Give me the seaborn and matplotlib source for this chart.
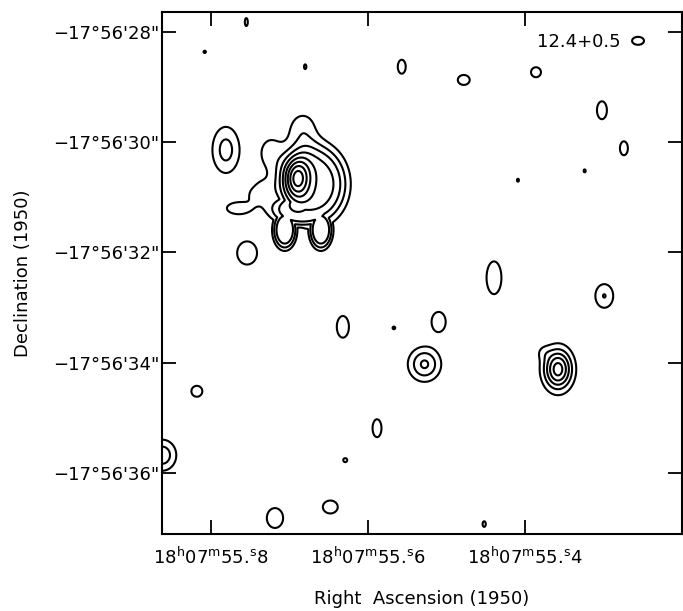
import numpy as np
import matplotlib
matplotlib.use("Agg")
import matplotlib.pyplot as plt
import seaborn as sns

# Contour map 12.4+0.5, rebuilt from blobs.
# RA in seconds (18h07m), Dec in arcsec (-17d56'), sizes in arcsec
src_ra = [55.671, 55.683, 55.706, 55.660, 55.683, 55.765, 55.735, 55.744, 55.690, 55.724,
          55.358, 55.377,
          55.781, 55.754, 55.4395, 55.299, 55.632, 55.567, 55.510, 55.528,
          55.818, 55.5885, 55.629, 55.862, 55.7185, 55.648, 55.452,
          55.755, 55.808, 55.680, 55.557, 55.478, 55.386, 55.256, 55.302,
          55.274, 55.409, 55.324]
src_dec = [30.76, 31.23, 31.59, 31.59, 29.78, 31.20, 30.90, 30.96, 30.65, 30.20,
           34.12, 33.81,
           30.14, 32.01, 32.46, 32.79, 33.35, 33.37, 33.26, 34.03,
           34.52, 35.19, 35.77, 35.68, 36.82, 36.62, 36.93,
           27.82, 28.36, 28.63, 28.63, 28.87, 28.73, 28.16, 29.42,
           30.11, 30.69, 30.52]
src_amp = [4.6, 3.8, 3.8, 3.8, 1.7, 1.45, 1.4, 0.8, 4.2, 1.4,
           5.5, 0.7,
           2.4, 1.5, 1.5, 2.03, 1.5, 1.2, 1.5, 3.17,
           1.5, 1.5, 1.3, 2.7, 1.5, 1.5, 1.3,
           1.5, 1.2, 1.3, 1.5, 1.5, 1.5, 1.5, 1.5,
           1.5, 1.2, 1.2]
src_sx = [0.53, 0.50, 0.18, 0.18, 0.20, 0.24, 0.18, 0.07, 0.16, 0.20,
          0.18, 0.10,
          0.185, 0.20, 0.15, 0.136, 0.122, 0.04, 0.142, 0.20,
          0.11, 0.09, 0.05, 0.18, 0.164, 0.15, 0.04,
          0.03, 0.035, 0.03, 0.08, 0.12, 0.10, 0.12, 0.10,
          0.08, 0.03, 0.03]
src_sy = [0.62, 0.25, 0.30, 0.30, 0.25, 0.12, 0.18, 0.07, 0.25, 0.28,
          0.255, 0.10,
          0.316, 0.233, 0.33, 0.18, 0.218, 0.04, 0.20, 0.21,
          0.11, 0.18, 0.05, 0.20, 0.20, 0.13, 0.07,
          0.08, 0.035, 0.06, 0.14, 0.10, 0.10, 0.08, 0.18,
          0.14, 0.045, 0.045]
src_pow = [2, 2, 2, 2, 1, 1, 1, 1, 1, 1,
           1, 1,
           1, 1, 1, 1, 1, 1, 1, 1,
           1, 1, 1, 1, 1, 1, 1,
           1, 1, 1, 1, 1, 1, 1, 1,
           1, 1, 1]
# plateau, bridge and the two southern lobes merge (max), everything else adds
src_mode = ['max'] * 4 + ['add'] * 34

levels = [1, 2, 3, 4, 5, 6, 7, 8]
ra_ticks = [55.8, 55.6, 55.4]
ra_labels = [r"$\mathregular{18^h07^m55.\!^s8}$",
             r"$\mathregular{18^h07^m55.\!^s6}$",
             r"$\mathregular{18^h07^m55.\!^s4}$"]
dec_ticks = [28, 30, 32, 34, 36]
dec_labels = ["\u221217\u00b056'28\"", "\u221217\u00b056'30\"", "\u221217\u00b056'32\"",
              "\u221217\u00b056'34\"", "\u221217\u00b056'36\""]

sns.set_style("ticks")
plt.rcParams['font.family'] = ['DejaVu Sans']
plt.rcParams['mathtext.default'] = 'regular'
plt.rcParams['text.color'] = 'black'
plt.rcParams['axes.labelcolor'] = 'black'
plt.rcParams['xtick.color'] = 'black'
plt.rcParams['ytick.color'] = 'black'

ra_lo, ra_hi = 55.2, 55.8624
dec_top, dec_bot = 27.637, 37.11

ra = np.linspace(ra_lo, ra_hi, 1000)
dec = np.linspace(dec_top, dec_bot, 1000)
RA, DEC = np.meshgrid(ra, dec)
cosd = np.cos(np.radians(17.94))

field = np.zeros_like(RA)
plateau = np.zeros_like(RA)
for r0, d0, a, sx, sy, p, m in zip(src_ra, src_dec, src_amp, src_sx, src_sy, src_pow, src_mode):
    dx = (RA - r0) * 15 * cosd
    dy = DEC - d0
    q = (dx / sx) ** 2 + (dy / sy) ** 2
    blob = a * np.exp(-0.5 * q ** p)
    if m == 'max':
        plateau = np.maximum(plateau, blob)
    else:
        field += blob
field += plateau

fig = plt.figure(figsize=(6.83, 6.11), dpi=100)
ax = fig.add_axes([162 / 683, 77 / 611, 520 / 683, 522 / 611])

ax.contour(RA, DEC, field, levels=levels, colors='black', linewidths=1.5)

ax.set_xlim(ra_hi, ra_lo)
ax.set_ylim(dec_bot, dec_top)
ax.set_xticks(ra_ticks)
ax.set_xticklabels(ra_labels, fontsize=13)
ax.set_yticks(dec_ticks)
ax.set_yticklabels(dec_labels, fontsize=13)
ax.tick_params(direction='in', length=10, width=1.3, top=True, right=True)
ax.tick_params(axis='x', pad=9)
ax.tick_params(axis='y', pad=2)
for s in ax.spines.values():
    s.set_linewidth(1.5)
    s.set_color('black')

ax.set_xlabel("Right  Ascension (1950)", fontsize=13)
ax.set_ylabel("Declination (1950)", fontsize=13)
ax.xaxis.set_label_coords(0.5, -0.108)
ax.yaxis.set_label_coords(-0.25, 0.5)

ax.text(0.722, 0.9425, "12.4+0.5", transform=ax.transAxes, fontsize=13,
        ha='left', va='center')

fig.savefig("out.png", dpi=100)
